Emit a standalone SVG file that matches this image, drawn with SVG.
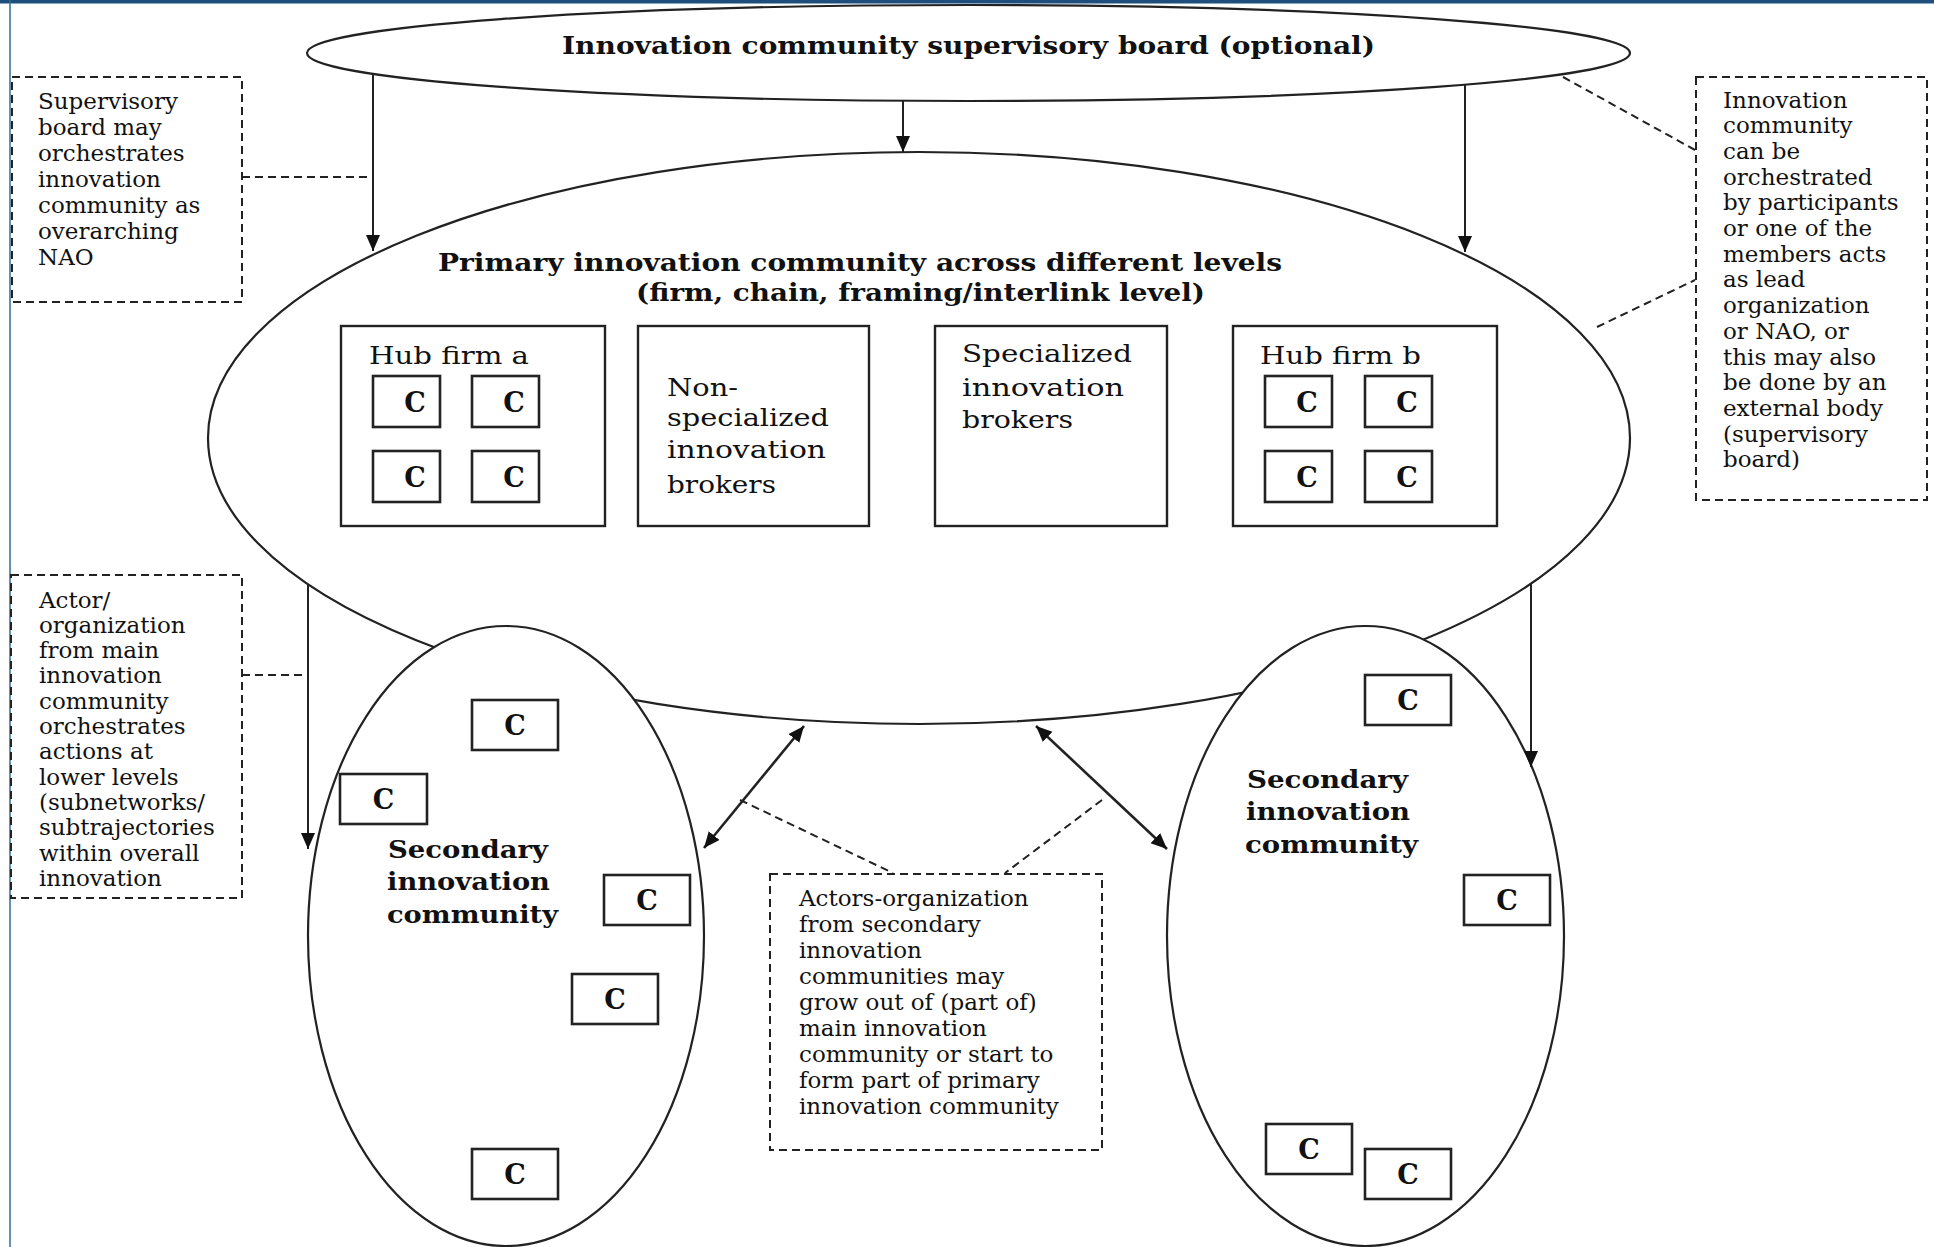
<svg xmlns="http://www.w3.org/2000/svg" width="1934" height="1247" viewBox="0 0 1934 1247">
<defs>
<marker id="ah" markerUnits="userSpaceOnUse" markerWidth="18" markerHeight="16" refX="16" refY="7" orient="auto-start-reverse">
<path d="M0,0 L16,7 L0,14 Z" fill="#111"/>
</marker>
</defs>
<style>
.ell{fill:#fff;stroke:#222;stroke-width:2.2}
.box{fill:#fff;stroke:#222;stroke-width:2.4}
.cbox{fill:#fff;stroke:#222;stroke-width:2.6}
.dbox{fill:#fff;stroke:#222;stroke-width:2;stroke-dasharray:8 5}
.dl{fill:none;stroke:#222;stroke-width:2;stroke-dasharray:8 5}
.ar{fill:none;stroke:#222;stroke-width:2}
.ar2{fill:none;stroke:#222;stroke-width:2.6}
.t{font-family:"DejaVu Serif","Liberation Serif",serif;font-size:23px;fill:#111}
.tl{font-family:"DejaVu Serif","Liberation Serif",serif;font-size:25px;fill:#111}
.tb{font-family:"DejaVu Serif","Liberation Serif",serif;font-weight:bold;fill:#111}
.cb{font-family:"DejaVu Serif","Liberation Serif",serif;font-size:27px;font-weight:bold;fill:#111;text-anchor:middle}
</style>
<rect x="0" y="0" width="1934" height="1247" fill="#fff"/>
<rect x="0" y="0" width="1934" height="3.5" fill="#1d4e7c"/>
<line x1="10" y1="0" x2="10" y2="1247" stroke="#2f6e93" stroke-width="1.5"/>

<g id="supervisory-board">
<ellipse class="ell" cx="968.5" cy="53" rx="661.5" ry="48"/>
<text class="tb" x="562" y="54" font-size="25" textLength="813" lengthAdjust="spacingAndGlyphs">Innovation community supervisory board (optional)</text>
</g>

<g id="primary-community">
<ellipse class="ell" cx="919" cy="438" rx="711" ry="286"/>
<text class="tb" x="438" y="271" font-size="24" textLength="844" lengthAdjust="spacingAndGlyphs">Primary innovation community across different levels</text>
<text class="tb" x="636" y="301" font-size="24" textLength="569" lengthAdjust="spacingAndGlyphs">(firm, chain, framing/interlink level)</text>
</g>

<g id="hub-firm-a">
<rect class="box" x="341" y="326" width="264" height="200"/>
<text class="tl" x="369" y="364" textLength="160" lengthAdjust="spacingAndGlyphs">Hub firm a</text>
<rect class="cbox" x="373" y="376" width="67" height="51"/>
<rect class="cbox" x="472" y="376" width="67" height="51"/>
<rect class="cbox" x="373" y="451" width="67" height="51"/>
<rect class="cbox" x="472" y="451" width="67" height="51"/>
<text class="cb" x="415" y="412">C</text>
<text class="cb" x="514" y="412">C</text>
<text class="cb" x="415" y="487">C</text>
<text class="cb" x="514" y="487">C</text>
</g>

<g id="non-specialized-brokers">
<rect class="box" x="638" y="326" width="231" height="200"/>
<text class="tl" x="667" y="396" textLength="71" lengthAdjust="spacingAndGlyphs">Non-</text>
<text class="tl" x="667" y="426" textLength="162" lengthAdjust="spacingAndGlyphs">specialized</text>
<text class="tl" x="667" y="458" textLength="159" lengthAdjust="spacingAndGlyphs">innovation</text>
<text class="tl" x="667" y="493" textLength="109" lengthAdjust="spacingAndGlyphs">brokers</text>
</g>

<g id="specialized-brokers">
<rect class="box" x="935" y="326" width="232" height="200"/>
<text class="tl" x="962" y="362" textLength="170" lengthAdjust="spacingAndGlyphs">Specialized</text>
<text class="tl" x="962" y="396" textLength="162" lengthAdjust="spacingAndGlyphs">innovation</text>
<text class="tl" x="962" y="428" textLength="111" lengthAdjust="spacingAndGlyphs">brokers</text>
</g>

<g id="hub-firm-b">
<rect class="box" x="1233" y="326" width="264" height="200"/>
<text class="tl" x="1260" y="364" textLength="161" lengthAdjust="spacingAndGlyphs">Hub firm b</text>
<rect class="cbox" x="1265" y="376" width="67" height="51"/>
<rect class="cbox" x="1365" y="376" width="67" height="51"/>
<rect class="cbox" x="1265" y="451" width="67" height="51"/>
<rect class="cbox" x="1365" y="451" width="67" height="51"/>
<text class="cb" x="1307" y="412">C</text>
<text class="cb" x="1407" y="412">C</text>
<text class="cb" x="1307" y="487">C</text>
<text class="cb" x="1407" y="487">C</text>
</g>

<g id="secondary-left">
<ellipse class="ell" cx="506" cy="936" rx="198" ry="310"/>
<text class="tb" x="388" y="858" font-size="25" textLength="160" lengthAdjust="spacingAndGlyphs">Secondary</text>
<text class="tb" x="387" y="890" font-size="25" textLength="163" lengthAdjust="spacingAndGlyphs">innovation</text>
<text class="tb" x="387" y="923" font-size="25" textLength="171" lengthAdjust="spacingAndGlyphs">community</text>
<rect class="cbox" x="472" y="700" width="86" height="50"/>
<rect class="cbox" x="340" y="774" width="87" height="50"/>
<rect class="cbox" x="604" y="875" width="86" height="50"/>
<rect class="cbox" x="572" y="974" width="86" height="50"/>
<rect class="cbox" x="472" y="1149" width="86" height="50"/>
<text class="cb" x="515" y="735">C</text>
<text class="cb" x="383.5" y="809">C</text>
<text class="cb" x="647" y="910">C</text>
<text class="cb" x="615" y="1009">C</text>
<text class="cb" x="515" y="1184">C</text>
</g>

<g id="secondary-right">
<ellipse class="ell" cx="1365.5" cy="936" rx="198.5" ry="310"/>
<text class="tb" x="1247" y="788" font-size="25" textLength="161" lengthAdjust="spacingAndGlyphs">Secondary</text>
<text class="tb" x="1246" y="820" font-size="25" textLength="164" lengthAdjust="spacingAndGlyphs">innovation</text>
<text class="tb" x="1245" y="853" font-size="25" textLength="173" lengthAdjust="spacingAndGlyphs">community</text>
<rect class="cbox" x="1365" y="675" width="86" height="50"/>
<rect class="cbox" x="1464" y="875" width="86" height="50"/>
<rect class="cbox" x="1266" y="1124" width="86" height="50"/>
<rect class="cbox" x="1365" y="1149" width="86" height="50"/>
<text class="cb" x="1408" y="710">C</text>
<text class="cb" x="1507" y="910">C</text>
<text class="cb" x="1309" y="1159">C</text>
<text class="cb" x="1408" y="1184">C</text>
</g>

<g id="note-supervisory">
<rect class="dbox" x="12" y="77" width="230" height="225"/>
<text class="t" x="38" y="109"><tspan x="38">Supervisory</tspan><tspan x="38" dy="26">board may</tspan><tspan x="38" dy="26">orchestrates</tspan><tspan x="38" dy="26">innovation</tspan><tspan x="38" dy="26">community as</tspan><tspan x="38" dy="26">overarching</tspan><tspan x="38" dy="26">NAO</tspan></text>
</g>

<g id="note-orchestration">
<rect class="dbox" x="1696" y="77" width="231" height="423"/>
<text class="t" x="1723" y="107.5"><tspan x="1723">Innovation</tspan><tspan x="1723" dy="25.7">community</tspan><tspan x="1723" dy="25.7">can be</tspan><tspan x="1723" dy="25.7">orchestrated</tspan><tspan x="1723" dy="25.7">by participants</tspan><tspan x="1723" dy="25.7">or one of the</tspan><tspan x="1723" dy="25.7">members acts</tspan><tspan x="1723" dy="25.7">as lead</tspan><tspan x="1723" dy="25.7">organization</tspan><tspan x="1723" dy="25.7">or NAO, or</tspan><tspan x="1723" dy="25.7">this may also</tspan><tspan x="1723" dy="25.7">be done by an</tspan><tspan x="1723" dy="25.7">external body</tspan><tspan x="1723" dy="25.7">(supervisory</tspan><tspan x="1723" dy="25.7">board)</tspan></text>
</g>

<g id="note-actor">
<rect class="dbox" x="11" y="575" width="231" height="323"/>
<text class="t" x="39" y="607.5"><tspan x="39">Actor/</tspan><tspan x="39" dy="25.3">organization</tspan><tspan x="39" dy="25.3">from main</tspan><tspan x="39" dy="25.3">innovation</tspan><tspan x="39" dy="25.3">community</tspan><tspan x="39" dy="25.3">orchestrates</tspan><tspan x="39" dy="25.3">actions at</tspan><tspan x="39" dy="25.3">lower levels</tspan><tspan x="39" dy="25.3">(subnetworks/</tspan><tspan x="39" dy="25.3">subtrajectories</tspan><tspan x="39" dy="25.3">within overall</tspan><tspan x="39" dy="25.3">innovation</tspan></text>
</g>

<g id="note-actors-secondary">
<rect class="dbox" x="770" y="874" width="332" height="276"/>
<text class="t" x="799" y="905.5"><tspan x="799">Actors-organization</tspan><tspan x="799" dy="26">from secondary</tspan><tspan x="799" dy="26">innovation</tspan><tspan x="799" dy="26">communities may</tspan><tspan x="799" dy="26">grow out of (part of)</tspan><tspan x="799" dy="26">main innovation</tspan><tspan x="799" dy="26">community or start to</tspan><tspan x="799" dy="26">form part of  primary</tspan><tspan x="799" dy="26">innovation community</tspan></text>
</g>

<g id="connectors">
<line class="ar" x1="373" y1="74" x2="373" y2="251" marker-end="url(#ah)"/>
<line class="ar" x1="903" y1="101" x2="903" y2="152" marker-end="url(#ah)"/>
<line class="ar" x1="1465" y1="85" x2="1465" y2="252" marker-end="url(#ah)"/>
<line class="ar" x1="308" y1="584" x2="308" y2="849" marker-end="url(#ah)"/>
<line class="ar" x1="1531" y1="584" x2="1531" y2="767" marker-end="url(#ah)"/>
<line class="ar2" x1="804" y1="726" x2="704" y2="848" marker-start="url(#ah)" marker-end="url(#ah)"/>
<line class="ar2" x1="1036" y1="726" x2="1167" y2="849" marker-start="url(#ah)" marker-end="url(#ah)"/>
<line class="dl" x1="242" y1="177" x2="372" y2="177"/>
<line class="dl" x1="242" y1="675" x2="307" y2="675"/>
<line class="dl" x1="1563" y1="77" x2="1695" y2="150"/>
<line class="dl" x1="1597" y1="327" x2="1695" y2="280"/>
<line class="dl" x1="740" y1="800" x2="893" y2="873"/>
<line class="dl" x1="1102" y1="800" x2="1005" y2="873"/>
</g>
</svg>
